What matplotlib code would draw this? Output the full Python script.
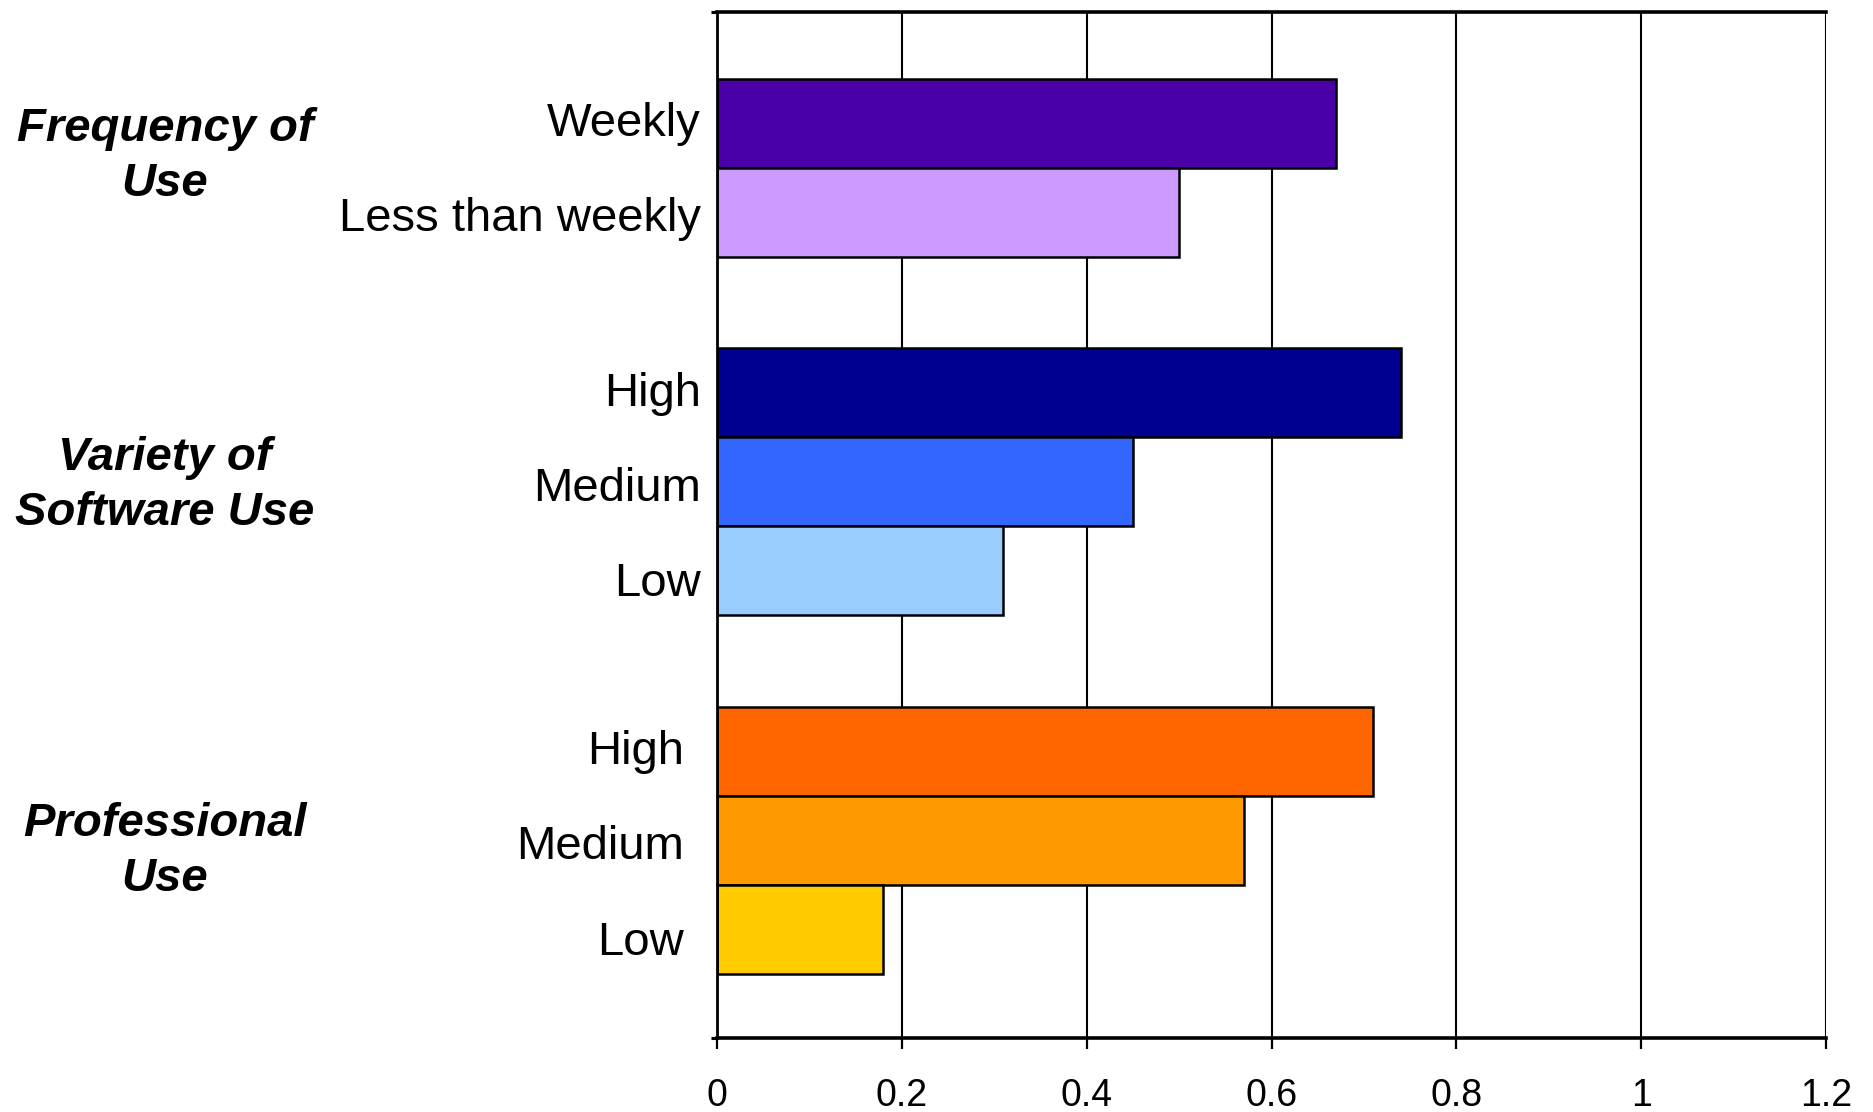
import matplotlib as mpl
mpl.use('Agg')
import matplotlib.pyplot as plt
from matplotlib import transforms

plt.rcParams['font.family'] = ['Liberation Sans', 'DejaVu Sans']

# grouped survey results
group_names = ["Frequency of\nUse", "Variety of\nSoftware Use", "Professional\nUse"]

freq_labels = ["Weekly", "Less than weekly"]
freq_values = [0.67, 0.50]
freq_colors = ["#4A00A6", "#CC99FF"]

variety_labels = ["High", "Medium", "Low"]
variety_values = [0.74, 0.45, 0.31]
variety_colors = ["#000090", "#3366FF", "#99CCFF"]

prof_labels = ["High", "Medium", "Low"]
prof_values = [0.71, 0.57, 0.18]
prof_colors = ["#FF6600", "#FF9900", "#FFCC00"]

x_ticks = [0, 0.2, 0.4, 0.6, 0.8, 1, 1.2]
x_ticklabels = ["0", "0.2", "0.4", "0.6", "0.8", "1", "1.2"]

# (labels, values, colours, label offset in pt, group title shift)
groups = [
    (freq_labels, freq_values, freq_colors, 11.5, -0.13),
    (variety_labels, variety_values, variety_colors, 11.5, 0.04),
    (prof_labels, prof_values, prof_colors, 23.5, 0.13),
]

fig = plt.figure(figsize=(18.74, 11.12), dpi=100)
ax = fig.add_axes([0.3826, 0.0667, 0.5918, 0.9225])

top_pad, group_gap, bottom_pad = 0.75, 1.03, 0.72
label_step = 1.07
trans = transforms.blended_transform_factory(fig.transFigure, ax.transData)

pos = top_pad
for name, (labels, values, colors, lab_off, title_shift) in zip(group_names, groups):
    start = pos
    for i, (lab, val, col) in enumerate(zip(labels, values, colors)):
        ax.barh(pos + 0.5, val, height=1.0, color=col, edgecolor='black',
                linewidth=1.8, zorder=3)
        ax.annotate(lab, xy=(0, start + 0.51 + label_step * i),
                    xycoords=ax.get_yaxis_transform(),
                    xytext=(-lab_off, 0), textcoords='offset points',
                    ha='right', va='center', fontsize=34)
        pos += 1.0
    center = (start + pos) / 2
    ax.text(0.088, center + title_shift, name,
            transform=trans, ha='center', va='center',
            fontsize=34, fontweight='bold', fontstyle='italic',
            linespacing=1.32)
    pos += group_gap
pos = pos - group_gap + bottom_pad

ax.set_ylim(pos, 0)
ax.set_xlim(0, 1.2)

ax.set_xticks(x_ticks)
ax.set_xticklabels(x_ticklabels)
ax.tick_params(axis='x', direction='out', length=8, width=1.6,
               labelsize=27, pad=21)
ax.set_yticks([0, pos])
ax.set_yticklabels([])
ax.tick_params(axis='y', direction='out', length=4, width=2.2)

ax.xaxis.grid(True, color='black', linewidth=1.5, zorder=0)
ax.set_axisbelow(True)

ax.spines['right'].set_visible(False)
ax.spines['top'].set_linewidth(2.6)
ax.spines['bottom'].set_linewidth(2.6)
ax.spines['left'].set_linewidth(2.0)
for s in ax.spines.values():
    s.set_zorder(4)

plt.savefig("out.png", dpi=100)
